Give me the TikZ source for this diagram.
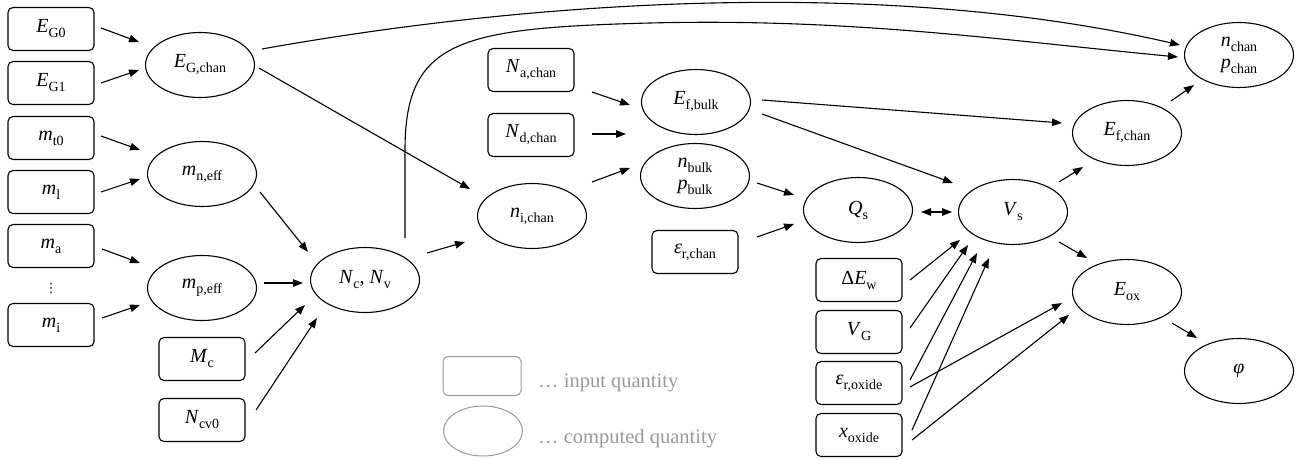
\documentclass[tikz,border=0pt]{standalone}
\usepackage{fontspec}
\setmainfont{Liberation Serif}
\newfontfamily\dvs{DejaVu Sans}
\usetikzlibrary{shapes.geometric,arrows.meta,calc}
\newcommand\lbl[2]{\textit{#1}\raisebox{-0.25em}{\fontsize{14}{14}\selectfont #2}}
\definecolor{leg}{HTML}{999999}
\begin{document}
\begin{tikzpicture}[x=1pt,y=-1pt,
  font=\fontsize{20}{23}\selectfont,
  inbox/.style={draw,rounded corners=5pt,minimum width=86pt,minimum height=43pt,inner sep=0pt,line width=1.1pt},
  comp/.style={draw,ellipse,minimum width=109pt,minimum height=65pt,inner sep=0pt,line width=1.1pt,align=center},
  arr/.style={line width=1.1pt,-{Triangle[length=10pt,width=7.5pt]}},
  darr/.style={line width=1.1pt,{Triangle[length=10pt,width=7.5pt]}-{Triangle[length=10pt,width=7.5pt]}},
  legbox/.style={draw=leg,rounded corners=5pt,minimum width=78pt,minimum height=39pt,line width=1pt},
  legell/.style={draw=leg,ellipse,minimum width=79pt,minimum height=50pt,inner sep=0pt,line width=1pt},
  legtxt/.style={text=leg,anchor=base west,font=\fontsize{20.5}{24}\selectfont,inner sep=0pt}]
\useasboundingbox (0,0) rectangle (1304,460);

% input column left
\node[inbox] (EG0) at (51,29) {\lbl{E}{G0}};
\node[inbox] (EG1) at (51,83) {\lbl{E}{G1}};
\node[inbox] (mt0) at (51,138) {\lbl{m}{t0}};
\node[inbox] (ml) at (51,192) {\lbl{m}{l}};
\node[inbox] (ma) at (51,246) {\lbl{m}{a}};
\node[inner sep=0pt] (dots) at (51,288) {\dvs\fontsize{13}{13}\selectfont ⋮};
\node[inbox] (mi) at (51,325) {\lbl{m}{i}};

\node[comp] (EGc) at (200,65) {\lbl{E}{G,chan}};
\node[comp] (mn) at (202,174) {\lbl{m}{n,eff}};
\node[comp] (mp) at (202,288) {\lbl{m}{p,eff}};
\node[inbox] (Mc) at (202,359) {\lbl{M}{c}};
\node[inbox] (Ncv0) at (202,420) {\lbl{N}{cv0}};
\node[comp] (NcNv) at (365,280) {\lbl{N}{c}, \lbl{N}{v}};

\node[inbox] (Na) at (531,70) {\lbl{N}{a,chan}};
\node[inbox] (Nd) at (531,135) {\lbl{N}{d,chan}};
\node[comp] (nic) at (532,216) {\lbl{n}{i,chan}};
\node[comp] (Efb) at (696,102) {\lbl{E}{f,bulk}};
\node[comp] (nb) at (695,176) {\lbl{n}{bulk}\\[-1pt]\lbl{p}{bulk}};
\node[inbox] (erc) at (695,252) {\lbl{ε}{r,chan}};

\node[comp] (Qs) at (858,210) {\lbl{Q}{s}};
\node[comp] (Vs) at (1013,212) {\lbl{V}{s}};
\node[comp] (Efc) at (1127,133) {\lbl{E}{f,chan}};
\node[comp] (nc) at (1239,55) {\lbl{n}{chan}\\[-1pt]\lbl{p}{chan}};
\node[comp] (Eox) at (1127,292) {\lbl{E}{ox}};
\node[comp] (phi) at (1239,371) {\textit{φ}};

\node[inbox] (dEw) at (859,280) {Δ\lbl{E}{w}};
\node[inbox] (VG) at (859,332) {\lbl{V}{G}};
\node[inbox] (ero) at (859,383) {\lbl{ε}{r,oxide}};
\node[inbox] (xo) at (859,435) {\lbl{x}{oxide}};

% legend
\node[legbox] (lb) at (482,376) {};
\node[legell] (le) at (483,431) {};
\node[legtxt] (lt1) at (538,387) {… input quantity};
\node[legtxt] (lt2) at (538,443) {… computed quantity};

% edges
\draw[arr] ($(EG0.center)+(50,-1)$) -- ($(EGc.center)+(-61,-23)$);
\draw[arr] ($(EG1.center)+(50,0)$) -- ($(EGc.center)+(-61,5)$);
\draw[arr] ($(mt0.center)+(50,-2)$) -- ($(mn.center)+(-62,-24)$);
\draw[arr] ($(ml.center)+(50,0)$) -- ($(mn.center)+(-62,5)$);
\draw[arr] ($(ma.center)+(51,3)$) -- ($(mp.center)+(-62,-25)$);
\draw[arr] ($(mi.center)+(51,-7)$) -- ($(mp.center)+(-62,17)$);
\draw[arr] ($(mp.center)+(62,-5)$) -- ($(NcNv.center)+(-62,3)$);
\draw[arr] ($(mn.center)+(58,18)$) -- ($(NcNv.center)+(-57,-28)$);
\draw[arr] ($(Mc.center)+(53,-6)$) -- ($(NcNv.center)+(-60,25)$);
\draw[arr] ($(Ncv0.center)+(54,-10)$) -- ($(NcNv.center)+(-48,38)$);
\draw[arr] ($(EGc.center)+(59,3)$) -- ($(nic.center)+(-62,-27)$);
\draw[arr] ($(EGc.center)+(62,-16)$) .. controls (547,-2) and (895,-21) .. ($(nc.center)+(-59,-10)$);
\draw[arr] ($(NcNv.center)+(40,-42)$) -- (405,150) .. controls (405,40) and (460,28) .. (650,23)
   .. controls (850,18) and (1000,40) .. ($(nc.center)+(-61,2)$);
\draw[arr] ($(NcNv.center)+(62,-27)$) -- ($(nic.center)+(-67,26)$);
\draw[arr] ($(Na.center)+(61,22)$) -- ($(Efb.center)+(-66,3)$);
\draw[arr] ($(Nd.center)+(61,-1)$) -- ($(Efb.center)+(-70,32)$);
\draw[arr] ($(nic.center)+(60,-34)$) -- ($(nb.center)+(-65,-8)$);
\draw[arr] ($(Efb.center)+(66,-2)$) -- ($(Efc.center)+(-65,-10)$);
\draw[arr] ($(Efb.center)+(66,12)$) -- ($(Vs.center)+(-60,-29)$);
\draw[arr] ($(nb.center)+(62,7)$) -- ($(Qs.center)+(-64,-15)$);
\draw[arr] ($(erc.center)+(62,-15)$) -- ($(Qs.center)+(-64,14)$);
\draw[darr] ($(Qs.center)+(63,2)$) -- ($(Vs.center)+(-61,0)$);
\draw[arr] ($(Vs.center)+(46,-30)$) -- ($(Efc.center)+(-44,34)$);
\draw[arr] ($(Efc.center)+(44,-32)$) -- ($(nc.center)+(-45,30)$);
\draw[arr] ($(Vs.center)+(46,30)$) -- ($(Eox.center)+(-40,-34)$);
\draw[arr] ($(Eox.center)+(45,31)$) -- ($(phi.center)+(-42,-33)$);
\draw[arr] ($(dEw.center)+(51,0)$) -- ($(Vs.center)+(-53,28)$);
\draw[arr] ($(VG.center)+(51,-4)$) -- ($(Vs.center)+(-45,33)$);
\draw[arr] ($(ero.center)+(51,-3)$) -- ($(Vs.center)+(-36,41)$);
\draw[arr] ($(xo.center)+(53,-5)$) -- ($(Vs.center)+(-24,46)$);
\draw[arr] ($(ero.center)+(51,4)$) -- ($(Eox.center)+(-65,11)$);
\draw[arr] ($(xo.center)+(53,5)$) -- ($(Eox.center)+(-58,23)$);
\end{tikzpicture}
\end{document}
